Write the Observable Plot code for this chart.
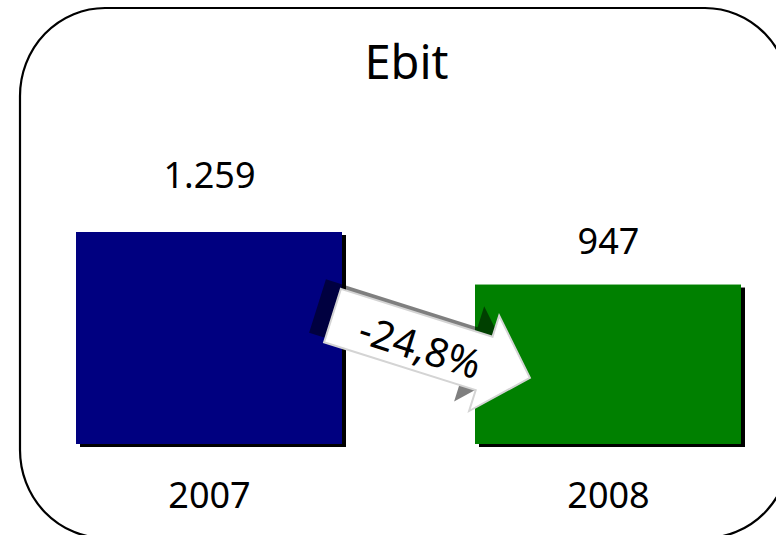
<!DOCTYPE html>
<html><head><meta charset="utf-8">
<script src="https://cdn.jsdelivr.net/npm/d3@7"></script>
<script src="https://cdn.jsdelivr.net/npm/@observablehq/plot@0.6"></script>
<style>
body{margin:0;background:#fff}
#chart{position:relative;width:776px;height:535px;overflow:hidden}
</style>
</head><body><div id="chart"></div>
<script>
const years = ["2007", "2008"];
const ebit = [1259, 947];
const valueLabels = ["1.259", "947"];
const barColors = ["#000080", "#008000"];
const titleText = "Ebit";
const changeLabel = "-24,8%";

const data = years.map((year, i) => ({year, value: ebit[i], label: valueLabels[i], color: barColors[i]}));
const font = "'Noto Sans', 'Open Sans', sans-serif";

const chart = Plot.plot({
  width: 776, height: 535,
  marginLeft: 76, marginRight: 35, marginTop: 232, marginBottom: 91,
  style: {fontFamily: font, fontSize: "36px", color: "#000", background: "transparent", overflow: "visible"},
  x: {domain: years, paddingInner: 1/3, paddingOuter: 0, tickSize: 0, tickPadding: 38, label: null},
  y: {domain: [0, d3.max(ebit)], axis: null},
  color: {type: "identity"},
  marks: [
    Plot.barY(data, {x: "year", y: "value", fill: "#000", dx: 4, dy: 3}),
    Plot.barY(data, {x: "year", y: "value", fill: "color"}),
    Plot.text(data, {x: "year", y: d => d.value * 1.265, text: "label", fontSize: 36, fontFamily: font}),
    Plot.text([titleText], {frameAnchor: "top", lineAnchor: "middle", text: d => d, fontSize: 47, fontFamily: font, dy: -169, dx: -2.5})
  ]
});
document.getElementById("chart").appendChild(chart);

const svg = d3.select(chart);
const xs = chart.scale("x"), ys = chart.scale("y");
const bw = xs.bandwidth;
const x0 = xs.apply(years[0]);

// rounded frame
svg.insert("rect", ":first-child")
  .attr("x", 20).attr("y", 8).attr("width", 770).attr("height", 530)
  .attr("rx", 85).attr("ry", 88)
  .attr("fill", "none").attr("stroke", "#000").attr("stroke-width", 2.2);

// change arrow
const tx = x0 + bw - 9.5, ty = ys.apply(ebit[1]) + 31;
const arrowPath = "M0,-28 L159,-28 L159,-50 L207,0 L159,50 L159,28 L0,28 Z";
svg.append("path")
  .attr("d", arrowPath)
  .attr("transform", `translate(${tx - 15},${ty - 9.5}) rotate(17.5)`)
  .attr("fill", "#000").attr("fill-opacity", 0.5);
const g = svg.append("g").attr("transform", `translate(${tx},${ty}) rotate(17.5)`);
g.append("path").attr("d", arrowPath)
  .attr("fill", "#fff").attr("stroke", "#d4d4d4").attr("stroke-width", 2);
g.append("text").attr("x", 93).attr("y", 4).attr("dy", "0.35em")
  .attr("text-anchor", "middle").attr("font-size", 40).attr("font-family", font)
  .attr("fill", "#000").text(changeLabel);
</script>
</body></html>
